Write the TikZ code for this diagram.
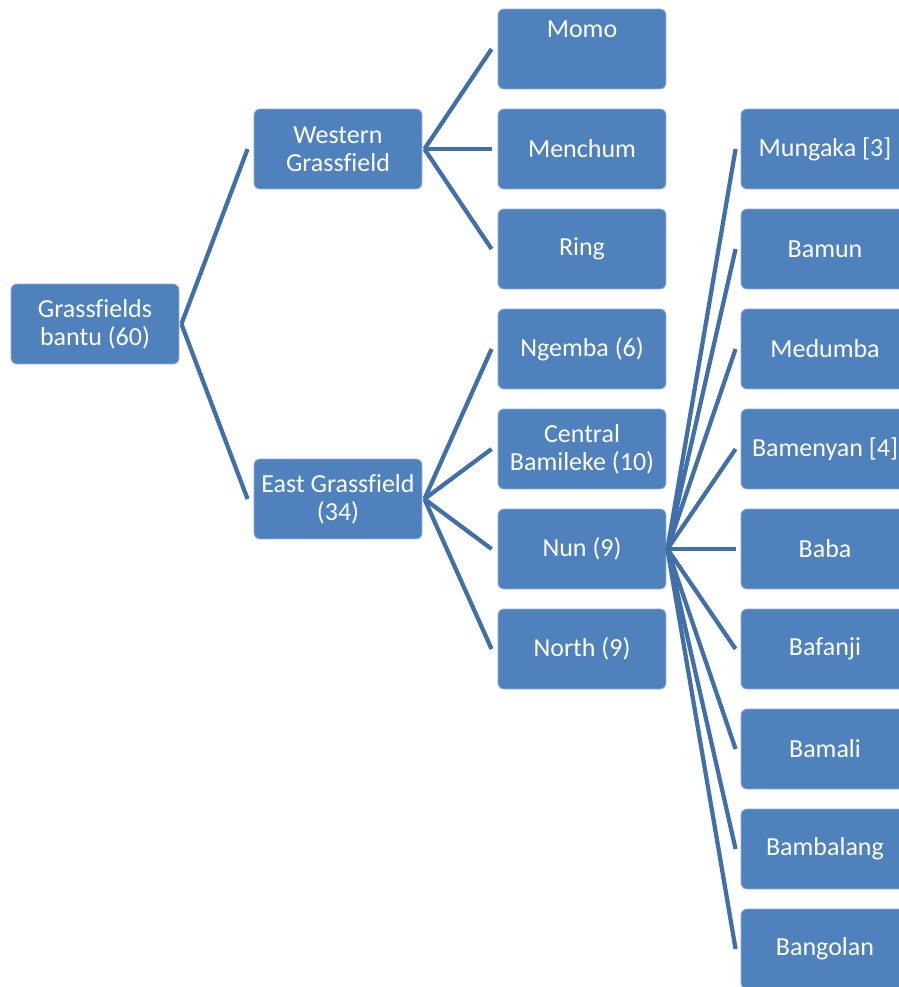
\documentclass[tikz,border=0pt]{standalone}
\usepackage{fontspec}
\setmainfont{Carlito}[Ligatures=NoCommon]
\definecolor{boxblue}{HTML}{4F81BD}
\definecolor{boxedge}{HTML}{8EAAD6}
\definecolor{linkblue}{HTML}{416FA8}
\tikzset{
  langbox/.style={rectangle, rounded corners=0.12cm, fill=boxblue, draw=boxedge,
    line width=0.5pt, minimum width=3.36cm, minimum height=1.6cm, inner sep=0pt,
    text=white, align=center, font=\fontsize{14.8}{15.9}\selectfont},
  link/.style={draw=linkblue, line width=0.085cm}
}
\begin{document}
\begin{tikzpicture}[x=0.02cm, y=-0.02cm]
        \useasboundingbox (0,0) rectangle (899,987);
        \clip (0,0) rectangle (899,987);

        % Boxes, level by level
        \node[langbox] (root) at (95,324) {Grassfields\\bantu (60)};
        \node[langbox] (wg) at (338,149) {Western\\Grassfield};
        \node[langbox] (eg) at (338,499) {East Grassfield\\(34)};

        \node[langbox] (momo) at (582,49) {Momo\\[0.24cm]\mbox{}};
        \node[langbox] (menchum) at (582,149) {Menchum};
        \node[langbox] (ring) at (582,249) {Ring};
        \node[langbox] (ngemba) at (582,349) {Ngemba (6)};
        \node[langbox] (central) at (582,449) {Central\\Bamileke (10)};
        \node[langbox] (nun) at (582,549) {Nun (9)};
        \node[langbox] (north) at (582,649) {North (9)};

        \node[langbox] (mungaka) at (825,149) {Mungaka [3]};
        \node[langbox] (bamun) at (825,249) {Bamun};
        \node[langbox] (medumba) at (825,349) {Medumba};
        \node[langbox] (bamenyan) at (825,449) {Bamenyan [4]};
        \node[langbox] (baba) at (825,549) {Baba};
        \node[langbox] (bafanji) at (825,649) {Bafanji};
        \node[langbox] (bamali) at (825,749) {Bamali};
        \node[langbox] (bambalang) at (825,849) {Bambalang};
        \node[langbox] (bangolan) at (825,949) {Bangolan};

        % Connectors
        \draw[link] ([xshift=0.04cm]root.east) -- ([xshift=-0.12cm]wg.west);
        \draw[link] ([xshift=0.04cm]root.east) -- ([xshift=-0.12cm]eg.west);
        \draw[link] ([xshift=0.04cm]wg.east) -- ([xshift=-0.12cm]momo.west);
        \draw[link] ([xshift=0.04cm]wg.east) -- ([xshift=-0.12cm]menchum.west);
        \draw[link] ([xshift=0.04cm]wg.east) -- ([xshift=-0.12cm]ring.west);
        \draw[link] ([xshift=0.04cm]eg.east) -- ([xshift=-0.12cm]ngemba.west);
        \draw[link] ([xshift=0.04cm]eg.east) -- ([xshift=-0.12cm]central.west);
        \draw[link] ([xshift=0.04cm]eg.east) -- ([xshift=-0.12cm]nun.west);
        \draw[link] ([xshift=0.04cm]eg.east) -- ([xshift=-0.12cm]north.west);
        \draw[link] ([xshift=0.02cm]nun.east) -- ([xshift=-0.1cm]mungaka.west);
        \draw[link] ([xshift=0.02cm]nun.east) -- ([xshift=-0.1cm]bamun.west);
        \draw[link] ([xshift=0.02cm]nun.east) -- ([xshift=-0.1cm]medumba.west);
        \draw[link] ([xshift=0.02cm]nun.east) -- ([xshift=-0.1cm]bamenyan.west);
        \draw[link] ([xshift=0.02cm]nun.east) -- ([xshift=-0.1cm]baba.west);
        \draw[link] ([xshift=0.02cm]nun.east) -- ([xshift=-0.1cm]bafanji.west);
        \draw[link] ([xshift=0.02cm]nun.east) -- ([xshift=-0.1cm]bamali.west);
        \draw[link] ([xshift=0.02cm]nun.east) -- ([xshift=-0.1cm]bambalang.west);
        \draw[link] ([xshift=0.02cm]nun.east) -- ([xshift=-0.1cm]bangolan.west);
    \end{tikzpicture}
\end{document}
